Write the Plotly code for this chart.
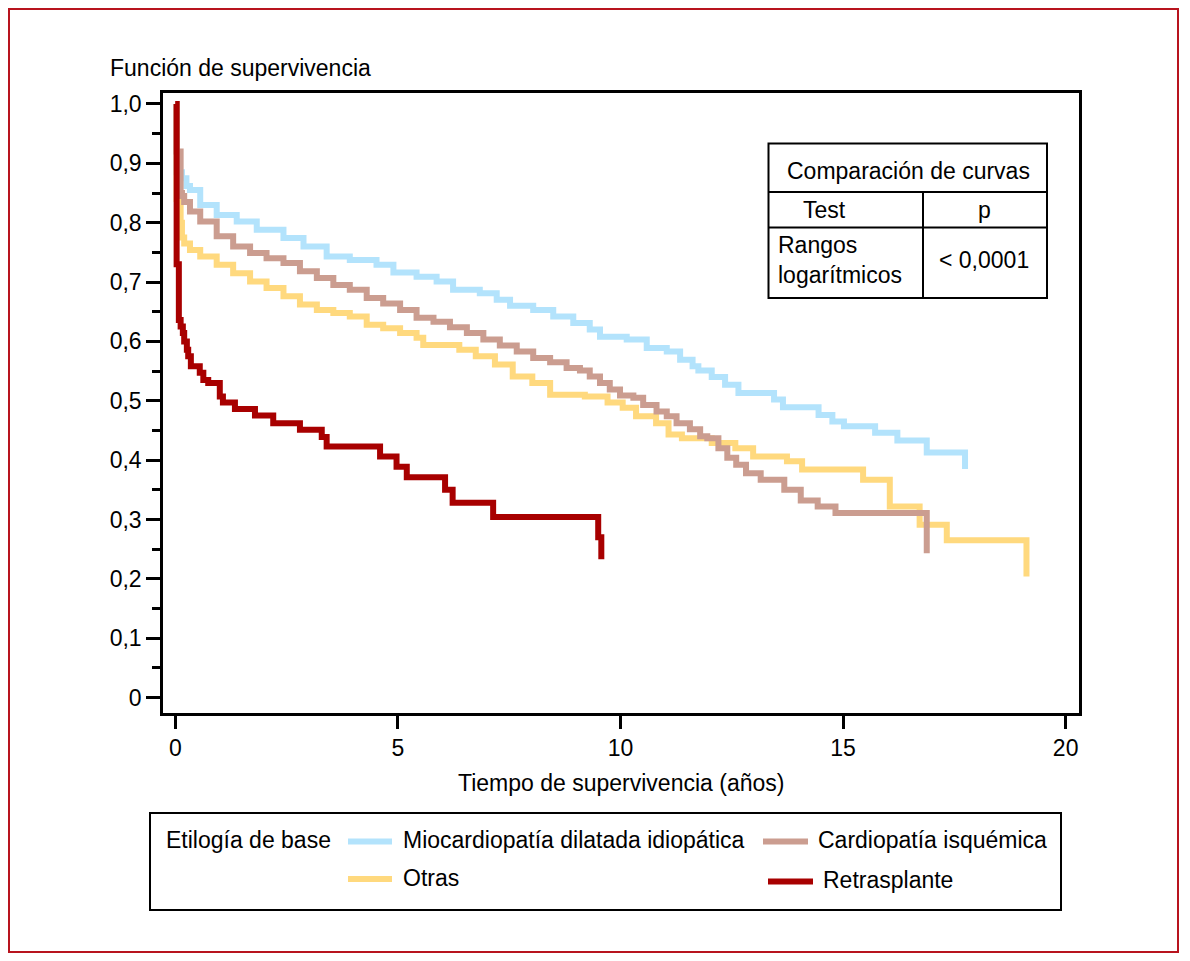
import plotly.graph_objects as go

# ---------------- data ----------------
series_names = ["Miocardiopatía dilatada idiopática", "Otras",
                "Cardiopatía isquémica", "Retrasplante"]

blue_t = [0, 0.03, 0.15, 0.25, 0.33, 0.56, 0.93, 1.38, 1.83, 2.43, 2.88, 3.40, 3.92,
          4.52, 4.90, 5.42, 5.87, 6.24, 6.84, 7.22, 7.52, 8.04, 8.49, 8.94, 9.31,
          9.54, 10.14, 10.59, 11.04, 11.34, 11.62, 11.75, 12.05, 12.35, 12.65,
          13.45, 13.65, 14.45, 14.76, 15.02, 15.72, 16.22, 16.88, 17.74]
blue_s = [1.0, 0.885, 0.875, 0.862, 0.855, 0.830, 0.813, 0.802, 0.788, 0.774, 0.760,
          0.743, 0.737, 0.729, 0.716, 0.709, 0.701, 0.687, 0.681, 0.670, 0.660,
          0.653, 0.642, 0.631, 0.620, 0.608, 0.603, 0.589, 0.583, 0.569, 0.558,
          0.551, 0.540, 0.527, 0.513, 0.502, 0.489, 0.476, 0.465, 0.457, 0.446,
          0.433, 0.413, 0.385]

yellow_t = [0, 0.03, 0.12, 0.15, 0.20, 0.33, 0.56, 0.93, 1.30, 1.68, 2.05, 2.43,
            2.80, 3.18, 3.55, 3.92, 4.30, 4.67, 5.05, 5.42, 5.57, 6.38, 6.75, 7.18,
            7.58, 8.02, 8.42, 9.20, 9.71, 10.05, 10.35, 10.80, 11.08, 11.38, 12.05,
            12.58, 12.98, 13.74, 14.08, 15.45, 16.05, 16.72, 17.33, 19.12]
yellow_s = [1.0, 0.84, 0.80, 0.775, 0.765, 0.754, 0.743, 0.729, 0.715, 0.701, 0.690,
            0.676, 0.662, 0.653, 0.648, 0.642, 0.628, 0.622, 0.614, 0.606, 0.594,
            0.586, 0.575, 0.561, 0.541, 0.530, 0.510, 0.507, 0.497, 0.488, 0.474,
            0.462, 0.443, 0.437, 0.429, 0.420, 0.406, 0.398, 0.384, 0.367, 0.322,
            0.291, 0.265, 0.204]

brown_t = [0, 0.03, 0.12, 0.15, 0.20, 0.33, 0.56, 0.93, 1.30, 1.68, 2.05, 2.43,
           2.80, 3.18, 3.55, 3.92, 4.30, 4.67, 5.05, 5.42, 5.80, 6.17, 6.55, 6.92,
           7.29, 7.67, 8.04, 8.42, 8.79, 9.09, 9.31, 9.54, 9.76, 9.99, 10.29, 10.51,
           10.81, 11.04, 11.26, 11.56, 11.79, 11.95, 12.20, 12.40, 12.60, 12.82,
           13.15, 13.68, 14.05, 14.43, 14.83, 16.88]
brown_s = [1.0, 0.92, 0.85, 0.845, 0.835, 0.819, 0.802, 0.777, 0.760, 0.749, 0.740,
           0.732, 0.718, 0.707, 0.695, 0.687, 0.673, 0.664, 0.653, 0.640, 0.633,
           0.624, 0.614, 0.603, 0.593, 0.583, 0.572, 0.565, 0.555, 0.551, 0.541,
           0.530, 0.519, 0.509, 0.505, 0.493, 0.482, 0.474, 0.462, 0.452, 0.440,
           0.437, 0.420, 0.404, 0.392, 0.378, 0.367, 0.350, 0.332, 0.322, 0.311,
           0.243]

red_t = [0, 0.03, 0.08, 0.12, 0.17, 0.20, 0.26, 0.29, 0.35, 0.55, 0.63, 0.74, 1.00,
         1.07, 1.34, 1.79, 2.20, 2.80, 3.29, 3.40, 4.60, 4.97, 5.20, 6.06, 6.23,
         7.14, 9.50, 9.57]
red_s = [1.0, 0.73, 0.636, 0.625, 0.614, 0.600, 0.586, 0.575, 0.558, 0.547, 0.535,
         0.530, 0.507, 0.497, 0.486, 0.475, 0.462, 0.451, 0.439, 0.423, 0.406,
         0.389, 0.371, 0.350, 0.328, 0.304, 0.270, 0.233]

colors = ["#B3E3FC", "#FFD97E", "#CB9D90", "#A80000"]

y_tickvals = [0, 0.1, 0.2, 0.3, 0.4, 0.5, 0.6, 0.7, 0.8, 0.9, 1.0]
y_ticktext = ["0", "0,1", "0,2", "0,3", "0,4", "0,5", "0,6", "0,7", "0,8", "0,9", "1,0"]
x_tickvals = [0, 5, 10, 15, 20]

table_title = "Comparación de curvas"
table_head = ["Test", "p"]
table_row = ["Rangos<br>logarítmicos", "< 0,0001"]
legend_title = "Etilogía de base"

# ---------------- layout helpers ----------------
# the page body has an 8px margin, so the figure is drawn 8px smaller and
# every reference pixel position is shifted by OFF
OFF = 8
W, H = 1190 - OFF, 961 - OFF
PLOT_L, PLOT_R, PLOT_T, PLOT_B = 163, 1079, 93, 713   # reference pixels
ML, MT = PLOT_L - OFF, PLOT_T - OFF
MR, MB = W - (PLOT_R - OFF), H - (PLOT_B - OFF)
PW, PH = PLOT_R - PLOT_L, PLOT_B - PLOT_T


def px(x):
    return (x - PLOT_L) / PW


def py(y):
    return (PLOT_B - y) / PH


FONT = "Liberation Sans, Arial, sans-serif"
FS = 23

fig = go.Figure()
data = [(blue_t, blue_s), (yellow_t, yellow_s), (brown_t, brown_s), (red_t, red_s)]
for (t, s), name, c in zip(data, series_names, colors):
    fig.add_trace(go.Scatter(x=t, y=s, mode="lines", name=name,
                             line=dict(color=c, width=6, shape="hv"),
                             showlegend=False))

fig.update_layout(
    width=W, height=H,
    margin=dict(l=ML, r=MR, t=MT, b=MB, pad=0),
    paper_bgcolor="white", plot_bgcolor="white",
    font=dict(family=FONT, size=FS, color="black"),
    showlegend=False,
)
fig.update_xaxes(
    range=[-0.276, 20.30], tickvals=x_tickvals, ticks="outside", ticklen=13,
    tickwidth=2.5, tickcolor="black", showline=True, linewidth=2.5,
    linecolor="black", mirror=True, showgrid=False, zeroline=False,
    tickfont=dict(size=FS),
)
fig.update_yaxes(
    range=[-0.0261, 1.0185], tickvals=y_tickvals, ticktext=y_ticktext,
    ticks="outside", ticklen=14, tickwidth=2.5, tickcolor="black",
    minor=dict(dtick=0.05, tick0=0, ticks="outside", ticklen=8, tickwidth=2.5,
               tickcolor="black", showgrid=False),
    showline=True, linewidth=2.5, linecolor="black", mirror=True,
    showgrid=False, zeroline=False, tickfont=dict(size=FS),
)

shapes = []
ann = []


def text(x, y, s, xanchor="left", size=FS):
    ann.append(dict(x=px(x), y=py(y), xref="paper", yref="paper", text=s,
                    showarrow=False, xanchor=xanchor, yanchor="middle",
                    font=dict(family=FONT, size=size, color="black"), align="left"))


def line(x0, y0, x1, y1, color="black", width=2):
    shapes.append(dict(type="line", xref="paper", yref="paper",
                       x0=px(x0), y0=py(y0), x1=px(x1), y1=py(y1),
                       line=dict(color=color, width=width), layer="above"))


# outer red frame
shapes.append(dict(type="rect", xref="paper", yref="paper",
                   x0=px(9), y0=py(9), x1=px(1178), y1=py(952),
                   line=dict(color="#B8141E", width=2)))

# axis titles
text(108, 68, "Función de supervivencia")
text(621, 783, "Tiempo de supervivencia (años)", xanchor="center")

# comparison table
shapes.append(dict(type="rect", xref="paper", yref="paper",
                   x0=px(768.5), y0=py(143.5), x1=px(1047), y1=py(298),
                   line=dict(color="black", width=2), fillcolor="white",
                   layer="above"))
line(768.5, 192, 1047, 192)
line(768.5, 227.5, 1047, 227.5)
line(923, 192, 923, 298)
text(908, 171, table_title, xanchor="center")
text(824, 210, table_head[0], xanchor="center")
text(984, 210, table_head[1], xanchor="center")
text(776, 260, table_row[0])
text(984, 260, table_row[1], xanchor="center")

# legend box
shapes.append(dict(type="rect", xref="paper", yref="paper",
                   x0=px(150), y0=py(813), x1=px(1061), y1=py(910),
                   line=dict(color="black", width=2)))
text(164, 840, legend_title)
legend_pos = [(348, 392, 841.5, 401, 840), (348, 392, 879, 401, 878),
              (763, 808, 841.5, 816, 840), (768, 813, 881.5, 821, 880)]
for (x0, x1, yl, xt, yt), name, c in zip(legend_pos, series_names, colors):
    line(x0, yl, x1, yl, color=c, width=6)
    text(xt, yt, name)

fig.update_layout(shapes=shapes, annotations=ann)
fig.write_html("out.html")
